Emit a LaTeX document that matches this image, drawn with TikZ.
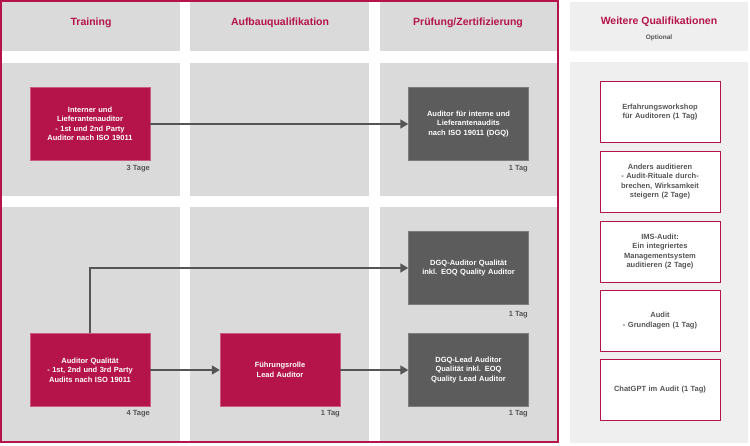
\documentclass[tikz,border=0pt]{standalone}
\usepackage{fontspec}
\setmainfont{Liberation Sans}
\usetikzlibrary{arrows.meta}
\definecolor{crim}{HTML}{B5144B}
\definecolor{cellg}{HTML}{DADADA}
\definecolor{lightg}{HTML}{EFEFEF}
\definecolor{darkb}{HTML}{5C5C5C}
\definecolor{txtg}{HTML}{555555}
\tikzset{
 redbox/.style={fill=crim,draw=crim!70!white,minimum width=120pt,minimum height=73pt,text width=114pt,align=center,text=white,font=\fontsize{7.5}{9.5}\selectfont\bfseries,inner sep=2pt},
 graybox/.style={redbox,fill=darkb,draw=darkb!80!white},
 optbox/.style={fill=white,draw=crim,line width=1pt,minimum width=120pt,minimum height=61pt,text width=114pt,align=center,text=txtg,font=\fontsize{7.5}{9.5}\selectfont\bfseries,inner sep=2pt},
 dur/.style={anchor=east,text=txtg,font=\fontsize{7.5}{9}\selectfont\bfseries,inner sep=0pt},
 hdr/.style={text=crim,font=\fontsize{10.5}{12}\selectfont\bfseries},
 conn/.style={draw=txtg,line width=1.5pt,-{Triangle[length=8pt,width=9pt]}}
}
\begin{document}
\begin{tikzpicture}[x=1pt,y=-1pt]
\useasboundingbox[fill=white] (0,0) rectangle (750,445);
% cells
\foreach \xa/\xb in {2/180,190/369,380/557}{
 \fill[cellg] (\xa,2) rectangle (\xb,51);
 \fill[cellg] (\xa,63) rectangle (\xb,196);
 \fill[cellg] (\xa,207) rectangle (\xb,441);
}
\draw[crim,line width=2pt] (1,1) rectangle (557.5,442);
\fill[lightg] (570,2) rectangle (748,51);
\fill[lightg] (570,62) rectangle (748,443);
\node[hdr] (h1) at (91,23) {Training};
\node[hdr] (h2) at (280,23) {Aufbauqualifikation};
\node[hdr] (h3) at (468,23) {Prüfung/Zertifizierung};
\node[hdr] (h4) at (659,22) {Weitere Qualifikationen};
\node[text=txtg,font=\fontsize{6.5}{8}\selectfont\bfseries] (h5) at (659,38) {Optional};
% boxes
\node[redbox] (A) at (90,124) {Interner und\\Lieferantenauditor\\- 1st und 2nd Party\\Auditor nach ISO 19011};
\node[graybox] (B) at (468.5,124) {Auditor für interne und\\Lieferantenaudits\\nach ISO 19011 (DGQ)};
\node[graybox] (C) at (468.5,268) {DGQ-Auditor Qualität\\inkl. EOQ Quality Auditor};
\node[graybox] (D) at (468.5,370) {DGQ-Lead Auditor\\Qualität inkl. EOQ\\Quality Lead Auditor};
\node[redbox] (E) at (90,370) {Auditor Qualität\\- 1st, 2nd und 3rd Party\\Audits nach ISO 19011};
\node[redbox] (F) at (280,370) {Führungsrolle\\Lead Auditor};
\node[dur] (dA) at (150,169) {3 Tage};
\node[dur] (dB) at (528,169) {1 Tag};
\node[dur] (dC) at (528,315) {1 Tag};
\node[dur] (dD) at (528,414) {1 Tag};
\node[dur] (dE) at (150,414) {4 Tage};
\node[dur] (dF) at (340,414) {1 Tag};
% connectors
\draw[conn] (A) -- (B);
\draw[conn] (E.north) |- (C.west);
\draw[conn] (E) -- (F);
\draw[conn] (F) -- (D);
% optional
\node[optbox] (o1) at (660,112) {Erfahrungsworkshop\\für Auditoren (1 Tag)};
\node[optbox] (o2) at (660,181.5) {Anders auditieren\\- Audit-Rituale durch-\\brechen, Wirksamkeit\\steigern (2 Tage)};
\node[optbox] (o3) at (660,251.5) {IMS-Audit:\\Ein integriertes\\Managementsystem\\auditieren (2 Tage)};
\node[optbox] (o4) at (660,320.5) {Audit\\- Grundlagen (1 Tag)};
\node[optbox] (o5) at (660,389.5) {ChatGPT im Audit (1 Tag)};
\end{tikzpicture}
\end{document}
